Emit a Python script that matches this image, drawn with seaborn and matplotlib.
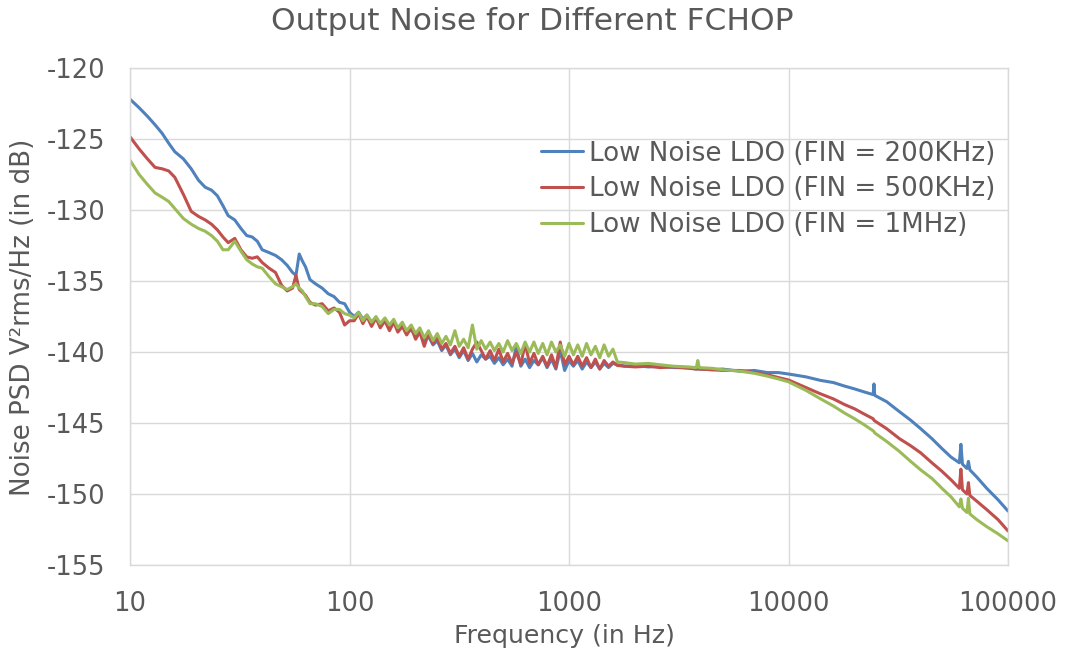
import matplotlib
matplotlib.use("Agg")
import matplotlib.pyplot as plt
import seaborn as sns
import pandas as pd

# ---------- DATA ----------
freq_low = [10, 11, 12, 13, 14, 15, 16, 17.5, 19, 20.5,
            22, 23.5, 25, 26.5, 28, 30, 32, 34, 36, 38,
            40, 43, 46, 49, 52, 55, 57, 59, 61, 63,
            66, 70, 75, 80, 85, 90, 95, 100]
freq_mid = [105, 110, 115, 120, 126, 132, 138, 145, 152, 159,
            166, 174, 182, 191, 200, 209, 219, 229, 240, 251,
            263, 275, 288, 302, 316, 331, 347, 363, 380, 398,
            417, 437, 457, 479, 501, 525, 550, 575, 603, 631,
            661, 692, 724, 759, 794, 832, 871, 912, 955, 1000,
            1047, 1096, 1148, 1202, 1259, 1318, 1380, 1445, 1514, 1585]
freq_high = [1660, 1800, 2000, 2300, 2600, 3000, 3500, 3800, 3860, 3920,
             4500, 5000, 6000, 7000, 8000, 9000, 10000, 12000, 14000, 16000,
             18000, 20000, 22000, 24300, 24500, 24700, 28000, 32000, 36000, 40000,
             45000, 50000, 55000, 60000, 61000, 62000, 65000, 66000, 67000, 72000,
             80000, 90000, 100000]

blue_low = [-122.2, -122.8, -123.4, -124.0, -124.6, -125.3, -125.9, -126.4, -127.1, -127.9,
            -128.4, -128.6, -129.0, -129.7, -130.4, -130.7, -131.3, -131.8, -131.9, -132.2,
            -132.8, -133.0, -133.2, -133.5, -133.9, -134.4, -134.6, -133.1, -133.6, -134.0,
            -134.9, -135.2, -135.5, -135.9, -136.1, -136.5, -136.6, -137.2]
blue_mid = [-137.5, -137.2, -137.7, -137.4, -137.9, -137.6, -138.1, -137.8, -138.3, -137.9,
            -138.4, -138.1, -138.7, -138.4, -138.9, -138.6, -139.2, -138.9, -139.5, -139.2,
            -139.9, -139.5, -140.2, -139.8, -140.4, -139.9, -140.6, -140.1, -140.7, -140.2,
            -140.5, -140.3, -140.8, -140.4, -140.9, -140.5, -141.0, -139.6, -141.0, -140.5,
            -141.1, -140.6, -140.9, -140.4, -141.1, -140.5, -141.2, -139.9, -141.3, -140.6,
            -141.0, -140.6, -141.2, -140.7, -141.1, -140.7, -141.2, -140.8, -141.1, -140.8]
blue_high = [-140.9, -141.0, -140.95, -141.05, -141.0, -141.1, -141.1, -141.2, -141.15, -141.2,
             -141.25, -141.2, -141.35, -141.3, -141.45, -141.45, -141.55, -141.75, -142.0, -142.15,
             -142.4, -142.6, -142.8, -143.0, -142.25, -143.05, -143.5, -144.2, -144.8, -145.4,
             -146.1, -146.8, -147.4, -147.8, -146.5, -147.9, -148.2, -147.7, -148.3, -148.8,
             -149.6, -150.4, -151.2]

red_low = [-124.85, -125.7, -126.4, -127.0, -127.1, -127.25, -127.7, -128.9, -130.1, -130.45,
           -130.7, -131.0, -131.4, -131.9, -132.3, -132.0, -132.8, -133.3, -133.4, -133.3,
           -133.7, -134.1, -134.4, -135.3, -135.7, -135.5, -134.6, -135.6, -135.8, -136.0,
           -136.5, -136.7, -136.6, -137.1, -136.9, -137.2, -138.1, -137.8]
red_mid = [-137.8, -137.3, -138.0, -137.5, -138.2, -137.6, -138.3, -137.8, -138.5, -137.9,
           -138.6, -138.2, -138.8, -138.3, -139.1, -138.6, -139.6, -138.7, -139.4, -139.0,
           -139.8, -139.4, -140.1, -139.6, -140.3, -139.7, -140.5, -139.8, -139.3, -139.9,
           -140.5, -139.9, -140.6, -139.8, -140.7, -140.1, -140.8, -140.0, -140.9, -139.4,
           -140.8, -140.1, -140.9, -140.3, -141.0, -140.2, -141.1, -139.3, -140.9, -140.3,
           -140.9, -140.3, -141.0, -140.4, -141.1, -140.5, -141.2, -140.6, -141.0, -140.7]
red_high = [-140.95, -141.0, -141.05, -141.0, -141.1, -141.05, -141.15, -141.2, -141.2, -141.2,
            -141.25, -141.3, -141.3, -141.45, -141.6, -141.8, -141.97, -142.5, -142.95, -143.3,
            -143.7, -144.0, -144.35, -144.7, -144.8, -144.85, -145.4, -146.1, -146.6, -147.1,
            -147.8, -148.4, -149.0, -149.6, -148.25, -149.7, -150.0, -149.2, -150.1, -150.5,
            -151.1, -151.8, -152.6]

green_low = [-126.5, -127.5, -128.2, -128.8, -129.1, -129.4, -129.9, -130.6, -131.0, -131.3,
             -131.5, -131.8, -132.2, -132.8, -132.8, -132.2, -132.9, -133.5, -133.8, -134.0,
             -134.1, -134.7, -135.2, -135.4, -135.6, -135.4, -135.2, -135.5, -135.7, -136.1,
             -136.6, -136.6, -136.8, -137.3, -137.0, -137.0, -137.3, -137.4]
green_mid = [-137.6, -137.2, -137.8, -137.4, -137.9, -137.5, -138.0, -137.6, -138.1, -137.7,
             -138.3, -137.9, -138.5, -138.1, -138.7, -138.3, -139.0, -138.5, -139.2, -138.7,
             -139.4, -138.9, -139.5, -138.5, -139.6, -139.1, -139.7, -138.1, -139.8, -139.2,
             -139.8, -139.3, -139.9, -139.4, -140.0, -139.2, -139.9, -139.4, -140.1, -139.3,
             -140.0, -139.3, -140.1, -139.4, -140.2, -139.3, -140.0, -139.5, -140.3, -139.4,
             -140.2, -139.5, -140.3, -139.4, -140.2, -139.6, -140.4, -139.5, -140.3, -139.8]
green_high = [-140.7, -140.75, -140.85, -140.8, -140.9, -141.0, -141.05, -141.1, -140.6, -141.1,
              -141.15, -141.25, -141.35, -141.5, -141.7, -141.9, -142.1, -142.7, -143.3, -143.8,
              -144.3, -144.7, -145.1, -145.55, -145.6, -145.7, -146.3, -147.0, -147.7, -148.3,
              -148.9, -149.6, -150.2, -150.9, -150.35, -151.0, -151.3, -150.3, -151.4, -151.8,
              -152.3, -152.8, -153.3]

series_names = ["Low Noise LDO (FIN = 200KHz)",
                "Low Noise LDO (FIN = 500KHz)",
                "Low Noise LDO (FIN = 1MHz)"]
colors = ["#4F81BD", "#C0504D", "#9BBB59"]
x_ticks = [10, 100, 1000, 10000, 100000]
y_ticks = [-155, -150, -145, -140, -135, -130, -125, -120]

# ---------- BUILD TABLE ----------
freq = freq_low + freq_mid + freq_high
curves = [blue_low + blue_mid + blue_high,
          red_low + red_mid + red_high,
          green_low + green_mid + green_high]

rows = []
for name, vals in zip(series_names, curves):
    for f, v in zip(freq, vals):
        rows.append({"Frequency": f, "PSD": v, "Series": name})
df = pd.DataFrame(rows)

# ---------- PLOT ----------
sns.set_style("white")
plt.rcParams["font.family"] = ["DejaVu Sans"]
text_color = "#595959"
grid_color = "#D9D9D9"

fig = plt.figure(figsize=(10.65, 6.58), dpi=100)
ax = fig.add_axes([0.1221, 0.1413, 0.8244, 0.7554])

sns.lineplot(data=df, x="Frequency", y="PSD", hue="Series",
             palette=colors, estimator=None, linewidth=2.2, ax=ax)

ax.set_xscale("log")
ax.set_xlim(10, 100000)
ax.set_ylim(-155, -120)
ax.set_xticks(x_ticks)
ax.set_xticklabels([str(t) for t in x_ticks])
ax.minorticks_off()
ax.set_yticks(y_ticks)
ax.set_yticklabels([str(t) for t in y_ticks])
ax.tick_params(axis="both", length=0, labelsize=18.5, labelcolor=text_color)
ax.tick_params(axis="y", pad=18)
ax.tick_params(axis="x", pad=19)

ax.grid(True, color=grid_color, linewidth=1)
ax.set_axisbelow(True)
for s in ax.spines.values():
    s.set_color(grid_color)
    s.set_linewidth(1)

ax.set_xlabel("")
ax.set_ylabel("")
fig.text(0.5, 0.968, "Output Noise for Different FCHOP", ha="center", va="center",
         fontsize=22.5, color=text_color)
fig.text(565 / 1065, 0.033, "Frequency (in Hz)", ha="center", va="center",
         fontsize=18.2, color=text_color)
fig.text(0.022, 1 - 317 / 658, "Noise PSD V²rms/Hz (in dB)", ha="center", va="center",
         rotation=90, fontsize=18.8, color=text_color)

handles, labels = ax.get_legend_handles_labels()
leg = ax.legend(handles, labels, loc="upper right", bbox_to_anchor=(0.997, 0.875),
                frameon=False, fontsize=18.8, handlelength=1.6, handletextpad=0.23,
                labelspacing=0.38, borderaxespad=0)
for t in leg.get_texts():
    t.set_color(text_color)
for h in leg.get_lines():
    h.set_linewidth(2.2)

fig.savefig("out.png", dpi=100)
